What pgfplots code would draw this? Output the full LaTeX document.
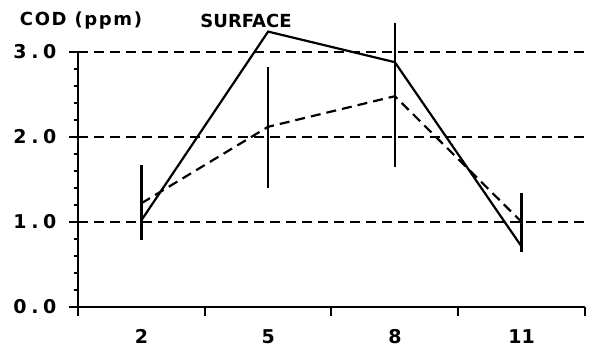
\documentclass[border=0pt]{standalone}
\usepackage{pgfplots}
\pgfplotsset{compat=1.18}
\usepackage{fontspec}
\setmainfont{DejaVu Sans}
\newfontfamily\ylabfont[LetterSpace=25]{DejaVu Sans}
\newfontfamily\codfont[LetterSpace=9]{DejaVu Sans}
\pgfplotstableread{
x y ep em
0.5 1.22 0.45 0.43
1.5 2.12 0.70 0.72
2.5 2.48 0.86 0.83
3.5 1.00 0.34 0.35
}\dashdata
\begin{document}
\begin{tikzpicture}
\useasboundingbox (-78pt,-48pt) rectangle (514pt,307pt);
\begin{axis}[
 at={(0pt,0pt)}, anchor=south west,
 scale only axis, width=507pt, height=255pt,
 xmin=0, xmax=4, ymin=0, ymax=3,
 clip=false,
 axis x line*=bottom, axis y line*=left,
 axis line style={line width=2.6pt, -},
 xtick={0,1,2,3,4}, xticklabels={},
 extra x ticks={0.5,1.5,2.5,3.5}, extra x tick labels={2,5,8,11},
 extra x tick style={major tick length=0pt, tick style={draw=none}},
 ytick={0,1,2,3}, yticklabels={0.0,1.0,2.0,3.0},
 minor y tick num=4,
 tick align=outside,
 major tick length=9pt, minor tick length=4pt,
 every tick/.style={line width=2pt, black},
 ymajorgrids, major grid style={dash pattern=on 10pt off 6pt, line width=1.5pt, black},
 xticklabel style={font=\bfseries\fontsize{19}{19}\selectfont, yshift=-19pt},
 yticklabel style={font=\ylabfont\bfseries\fontsize{19}{19}\selectfont, xshift=-9pt},
]
\addplot[line width=2.2pt, black] coordinates {(0.5,1.02) (1.5,3.24) (2.5,2.88) (3.5,0.71)};
\addplot[line width=2.2pt, black, dash pattern=on 10pt off 6pt,
  error bars/.cd, y dir=both, y explicit, error mark=none,
  error bar style={solid, line width=2.3pt}]
  table[x=x, y=y, y error plus=ep, y error minus=em] {\dashdata};
\end{axis}
\node[font=\codfont\bfseries\fontsize{18}{18}\selectfont] at (3pt,286pt) {COD (ppm)};
\node[font=\bfseries\fontsize{18}{18}\selectfont] at (168pt,286pt) {SURFACE};
\end{tikzpicture}
\end{document}
